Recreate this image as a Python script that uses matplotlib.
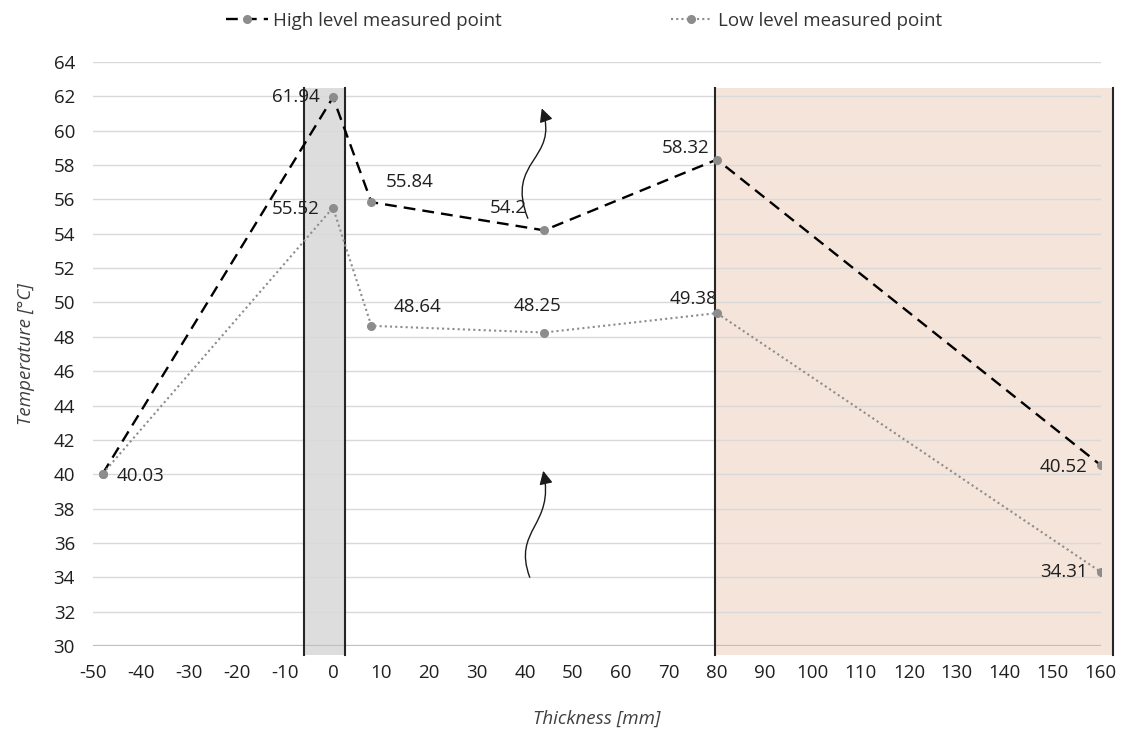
import matplotlib
matplotlib.use("Agg")
import matplotlib.pyplot as plt
from matplotlib.path import Path
from matplotlib.patches import FancyArrowPatch

plt.rcParams["font.family"] = ["Open Sans", "DejaVu Sans"]
plt.rcParams["axes.unicode_minus"] = False

# ── data ──────────────────────────────────────────────────────────────────────
thickness = [-48, 0, 8, 44, 80, 160]
high_temp = [40.03, 61.94, 55.84, 54.2, 58.32, 40.52]
low_temp  = [40.03, 55.52, 48.64, 48.25, 49.38, 34.31]

# label offsets in pixels (dx, dy, ha); the first high point shares its label
high_offsets = [None, (-13, 0, "right"), (14, 20, "left"), (-17, 22, "right"),
                (-8, 12, "right"), (-13, -2, "right")]
low_offsets  = [(14, -2, "left"), (-13, -1, "right"), (22, 19, "left"),
                (-7, 27, "center"), (-23, 14, "center"), (-13, 0, "right")]

xticks = list(range(-50, 161, 10))
yticks = list(range(30, 65, 2))

gray_band = (-6, 2.5)
pink_band = (79.5, 162.5)
band_y = (29.5, 62.5)

# wavy arrows (bezier control points, data coords)
arrow_up   = [(40.6, 54.9), (35.8, 58.3), (47.3, 58.3), (43.5, 61.3)]
arrow_down = [(41.0, 34.0), (37.3, 36.8), (46.3, 37.0), (43.8, 40.2)]

FS = 13.5

# ── figure ────────────────────────────────────────────────────────────────────
fig = plt.figure(figsize=(11.21, 7.33), dpi=100)
ax = fig.add_axes([0.083, 0.1187, 0.899, 0.7967])

ax.set_xlim(-50, 160)
ax.set_ylim(30, 64)
ax.set_xticks(xticks)
ax.set_yticks(yticks)
ax.grid(axis="y", color="#d9d9d9", linewidth=1.0)
ax.axhline(30, color="#bfbfbf", linewidth=1.6, zorder=1.6)
for s in ax.spines.values():
    s.set_visible(False)
ax.tick_params(length=0, labelsize=FS, colors="#1f1f1f", pad=13)

# shaded regions under the grid and lines
ax.fill_between(gray_band, band_y[0], band_y[1], color="#dcdddc",
                zorder=1, clip_on=False, linewidth=0)
ax.fill_between(pink_band, band_y[0], band_y[1], color="#f4e4da",
                zorder=1, clip_on=False, linewidth=0)
for xv in list(gray_band) + list(pink_band):
    ax.plot([xv, xv], band_y, color="#262626", linewidth=1.5, zorder=2,
            clip_on=False)

mk = dict(marker="o", markersize=5.5, markerfacecolor="#8c8c8c",
          markeredgecolor="#8c8c8c")
ax.plot(thickness, high_temp, color="black", linestyle=(0, (5, 3)),
        linewidth=1.7, label="High level measured point", zorder=3, **mk)
ax.plot(thickness, low_temp, color="#8c8c8c", linestyle=(0, (1, 1.5)),
        linewidth=1.5, label="Low level measured point", zorder=3, **mk)

# data labels
for temps, offsets in ((high_temp, high_offsets), (low_temp, low_offsets)):
    for x, y, off in zip(thickness, temps, offsets):
        if off is None:
            continue
        dx, dy, ha = off
        ax.annotate(f"{y:g}", (x, y), xytext=(dx, dy),
                    textcoords="offset pixels", ha=ha, va="center",
                    fontsize=FS, color="#1f1f1f", zorder=6)

# wavy arrows
codes = [Path.MOVETO, Path.CURVE4, Path.CURVE4, Path.CURVE4]
for pts in (arrow_up, arrow_down):
    ap = FancyArrowPatch(path=Path(pts, codes),
                         arrowstyle="-|>,head_length=8,head_width=4",
                         color="#1a1a1a", linewidth=1.0, zorder=6)
    ax.add_patch(ap)

ax.set_xlabel("Thickness [mm]", fontsize=FS, style="italic", color="#404040",
              labelpad=20)
ax.set_ylabel("Temperature [°C]", fontsize=FS, style="italic", color="#404040",
              labelpad=13)

fig.legend(loc="center", bbox_to_anchor=(0.521, 0.972), ncol=2,
           frameon=False, fontsize=FS, handlelength=2.2, handletextpad=0.3,
           columnspacing=9.0, labelcolor="#333333")

fig.savefig("out.png", dpi=100)
